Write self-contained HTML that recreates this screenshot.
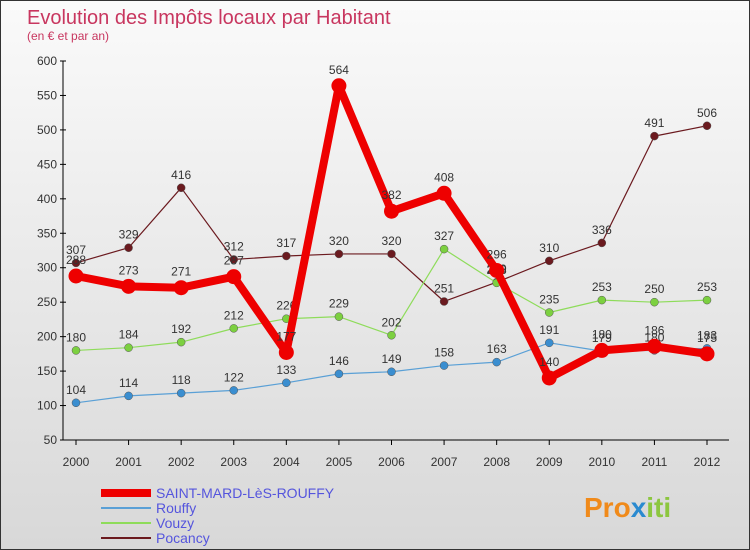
<!DOCTYPE html>
<html><head><meta charset="utf-8"><style>
body{margin:0}
#c{width:750px;height:550px;position:relative;background:linear-gradient(#fafafa,#d8d8d8);font-family:"Liberation Sans",sans-serif;overflow:hidden;border:1px solid #333;box-sizing:border-box}
</style></head><body>
<div id="c">
<svg id="s" width="750" height="550" style="position:absolute;left:0;top:0">
<text x="26" y="23" font-size="20" fill="#c8365f">Evolution des Impôts locaux par Habitant</text>
<text x="26" y="39" font-size="12" fill="#c8365f">(en € et par an)</text>
<g id="axes"></g><g id="series"></g><g id="legend"></g>
<text x="583" y="516" font-size="28" font-weight="bold" fill="#f08a1a">Pro<tspan fill="#2a8ad0">x</tspan><tspan fill="#8cc63f">iti</tspan></text>
</svg></div>
<script>
const years=[2000,2001,2002,2003,2004,2005,2006,2007,2008,2009,2010,2011,2012];
const yTicks=[50,100,150,200,250,300,350,400,450,500,550,600];
const saintMard=[288,273,271,287,177,564,382,408,296,140,180,186,175];
const rouffy=[104,114,118,122,133,146,149,158,163,191,179,180,183];
const vouzy=[180,184,192,212,226,229,202,327,278,235,253,250,253];
const pocancy=[307,329,416,312,317,320,320,251,279,310,336,491,506];
const NS="http://www.w3.org/2000/svg";
const x=i=>75+i*(706-75)/12;
const y=v=>439-(v-50)*(379/550);
function mk(t,a,p){const e=document.createElementNS(NS,t);for(const k in a)e.setAttribute(k,a[k]);p.appendChild(e);return e;}
const ax=document.getElementById('axes');
const yl=mk('line',{x1:62,y1:60,x2:62,y2:439,stroke:'#000'},ax);


const xl=mk('line',{x1:62,y1:439,x2:728,y2:439,stroke:'#000'},ax);


yTicks.forEach(v=>{
 mk('line',{x1:59,y1:y(v),x2:65,y2:y(v),stroke:'#000'},ax);
 const t=mk('text',{x:56,y:y(v)+4,'font-size':12,fill:'#333','text-anchor':'end'},ax);t.textContent=v;
 
 
});
years.forEach((yr,i)=>{
 mk('line',{x1:x(i),y1:439,x2:x(i),y2:444,stroke:'#000'},ax);
 const t=mk('text',{x:x(i),y:465,'font-size':12,fill:'#333','text-anchor':'middle'},ax);t.textContent=yr;
 
 
});
const S=[
 {n:'Pocancy',d:pocancy,c:'#6b1a1f',w:1.2,r:4,key:'pocancy'},
 {n:'Vouzy',d:vouzy,c:'#8edc5a',w:1.2,r:4,key:'vouzy'},
 {n:'Rouffy',d:rouffy,c:'#5aa0d6',w:1.2,r:4,key:'rouffy'},
 {n:'SAINT-MARD-LèS-ROUFFY',d:saintMard,c:'#ee0000',w:8,r:7,key:'saint-mard'}];
const sg=document.getElementById('series');
S.forEach(s=>{
 const g=mk('g',{},sg);
 
 
 const l=mk('polyline',{points:s.d.map((v,i)=>x(i)+','+y(v)).join(' '),fill:'none',stroke:s.c,'stroke-width':s.w,'stroke-linejoin':'round'},g);
 
 
 s.d.forEach((v,i)=>{
  const fill=s.key==='pocancy'?'#6b1a1f':s.key==='vouzy'?'#7cd040':s.key==='rouffy'?'#3a8ed0':'#ee0000';
  const p=mk('circle',{cx:x(i),cy:y(v),r:s.r,fill:fill,stroke:s.key==='saint-mard'?'#ee0000':'#555','stroke-width':s.key==='saint-mard'?1:0.5},g);
  
  
  const t=mk('text',{x:x(i),y:y(v)-(s.r+5),'font-size':12,fill:'#333','text-anchor':'middle'},g);t.textContent=v;
  
  
 });
});
const lg=document.getElementById('legend');
[S[3],S[2],S[1],S[0]].forEach((s,i)=>{
 const yy=492+i*15;
 const g=mk('g',{},lg);
 
 
 mk('line',{x1:100,y1:yy,x2:150,y2:yy,stroke:s.c,'stroke-width':i===0?8:2},g);
 const t=mk('text',{x:155,y:yy+5,'font-size':14,fill:'#5555dd'},g);t.textContent=s.n;
});
</script>
</body></html>
